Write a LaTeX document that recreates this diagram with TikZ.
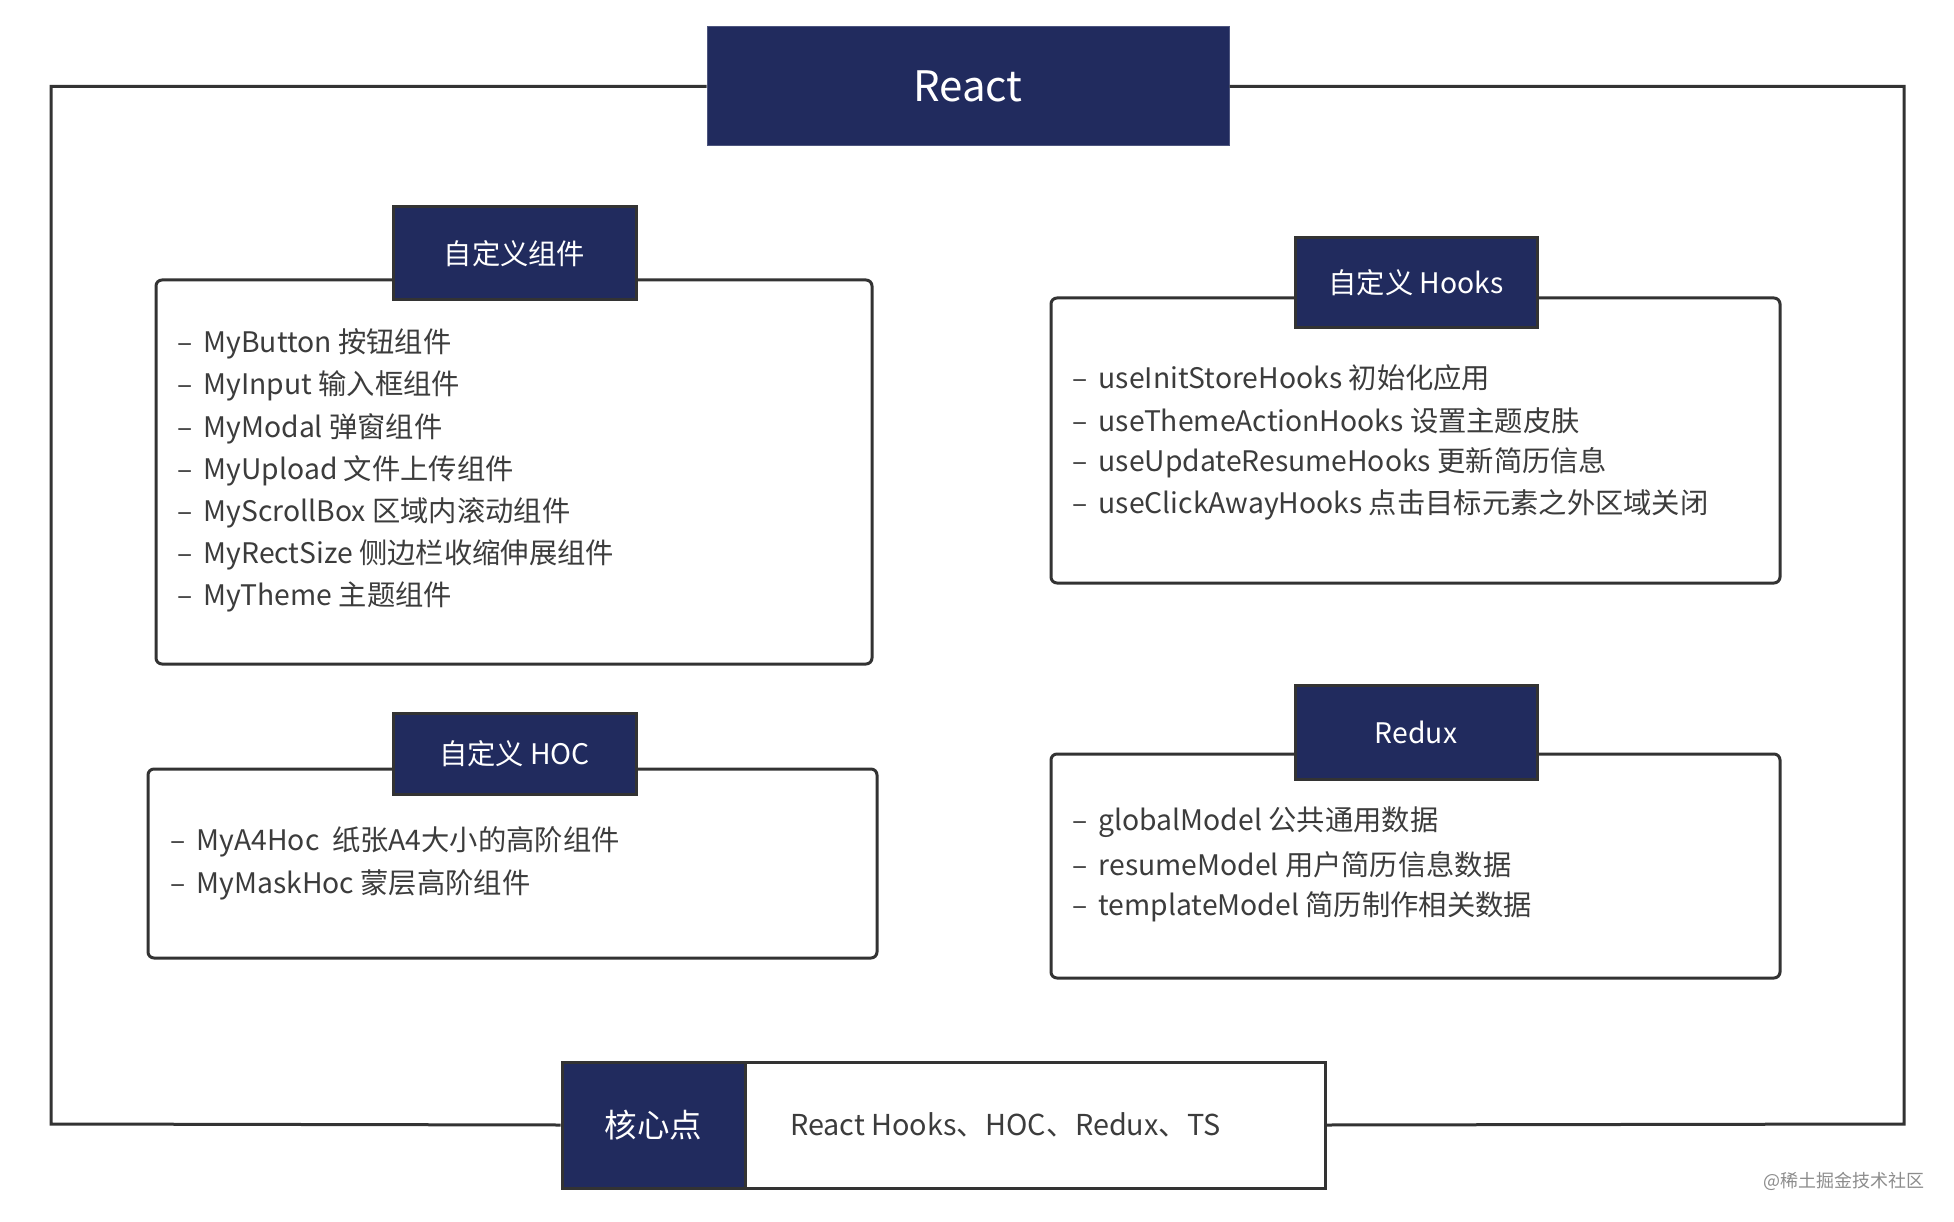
\documentclass[tikz,border=0pt]{standalone}
\usepackage{fontspec}
\setmainfont{Noto Sans CJK SC}
\definecolor{navy}{HTML}{212B5E}
\definecolor{edge}{HTML}{333333}
\definecolor{txt}{HTML}{3C3C3C}
\newcommand{\dashitem}{–\hspace{0.4em}}
\tikzset{
  hdr/.style={fill=navy, draw=edge, line width=3pt, text=white, inner sep=0pt, font=\fontsize{28.3}{30}\selectfont},
  cbox/.style={draw=edge, line width=3pt, rounded corners=6pt, fill=white, inner sep=0pt},
  item/.style={anchor=west, inner sep=0pt, text=txt, font=\fontsize{28.3}{30}\selectfont},
  frame/.style={draw=edge, line width=3pt}
}
\begin{document}
\begin{tikzpicture}[x=1pt,y=-1pt]
\useasboundingbox (0,0) rectangle (1954,1222);
\node[fill=navy, draw=navy!80, line width=1pt, text=white, inner sep=0pt, minimum width=522pt, minimum height=119pt, font=\fontsize{42}{46}\selectfont] (react) at (968,86.5) {React};
\node[fill=navy, draw=edge, line width=3pt, text=white, inner sep=0pt, minimum width=183pt, minimum height=126pt, font=\fontsize{32.5}{36}\selectfont] (core) at (653.5,1125) {核心点};
\node[fill=white, draw=edge, line width=3pt, inner sep=0pt, minimum width=580pt, minimum height=126pt] (corebox) at (1035,1125) {};
\node[item, font=\fontsize{28.8}{30}\selectfont] (coretxt) at (790,1125) {React Hooks、HOC、Redux、TS};
\coordinate (bl) at (51,1124);
\coordinate (br) at (1904,1124);
\draw[frame] (react.west) -| (bl) -- (core.west);
\draw[frame] (react.east) -| (br) -- (corebox.east);
% components box
\node[cbox, minimum width=716pt, minimum height=384pt] (b1) at (514,472) {};
\node[hdr, minimum width=243pt, minimum height=93pt] (h1) at (514.5,253.5) {自定义组件};
\foreach \t [count=\i] in {MyButton 按钮组件, MyInput 输入框组件, MyModal 弹窗组件, MyUpload 文件上传组件, MyScrollBox 区域内滚动组件, MyRectSize 侧边栏收缩伸展组件, MyTheme 主题组件}
  \node[item] (c\i) at (177,{344+42.2*(\i-1)}) {\dashitem\t};
% hooks box
\node[cbox, minimum width=729pt, minimum height=285pt] (b2) at (1415.5,440.5) {};
\node[hdr, minimum width=242pt, minimum height=90pt] (h2) at (1416,283) {自定义 Hooks};
\foreach \t [count=\i] in {useInitStoreHooks 初始化应用, useThemeActionHooks 设置主题皮肤, useUpdateResumeHooks 更新简历信息, useClickAwayHooks 点击目标元素之外区域关闭}
  \node[item] (k\i) at (1072,{378+42.3*(\i-1)}) {\dashitem\t};
% HOC box
\node[cbox, minimum width=729pt, minimum height=189pt] (b3) at (512.5,863.5) {};
\node[hdr, minimum width=243pt, minimum height=81pt] (h3) at (514.5,753.5) {自定义 HOC};
\node[item] (o1) at (170,842) {\dashitem MyA4Hoc\ \ 纸张A4大小的高阶组件};
\node[item] (o2) at (170,885) {\dashitem MyMaskHoc 蒙层高阶组件};
% redux box
\node[cbox, minimum width=729pt, minimum height=224pt] (b4) at (1415.5,866) {};
\node[hdr, minimum width=242pt, minimum height=94pt] (h4) at (1416,732) {Redux};
\foreach \t [count=\i] in {globalModel 公共通用数据, resumeModel 用户简历信息数据, templateModel 简历制作相关数据}
  \node[item] (r\i) at (1072,{822+42.5*(\i-1)}) {\dashitem\t};
% watermark
\node[anchor=west, inner sep=0pt, text=black!45, font=\fontsize{18}{20}\selectfont] (wm) at (1763,1181) {@稀土掘金技术社区};
\end{tikzpicture}
\end{document}
